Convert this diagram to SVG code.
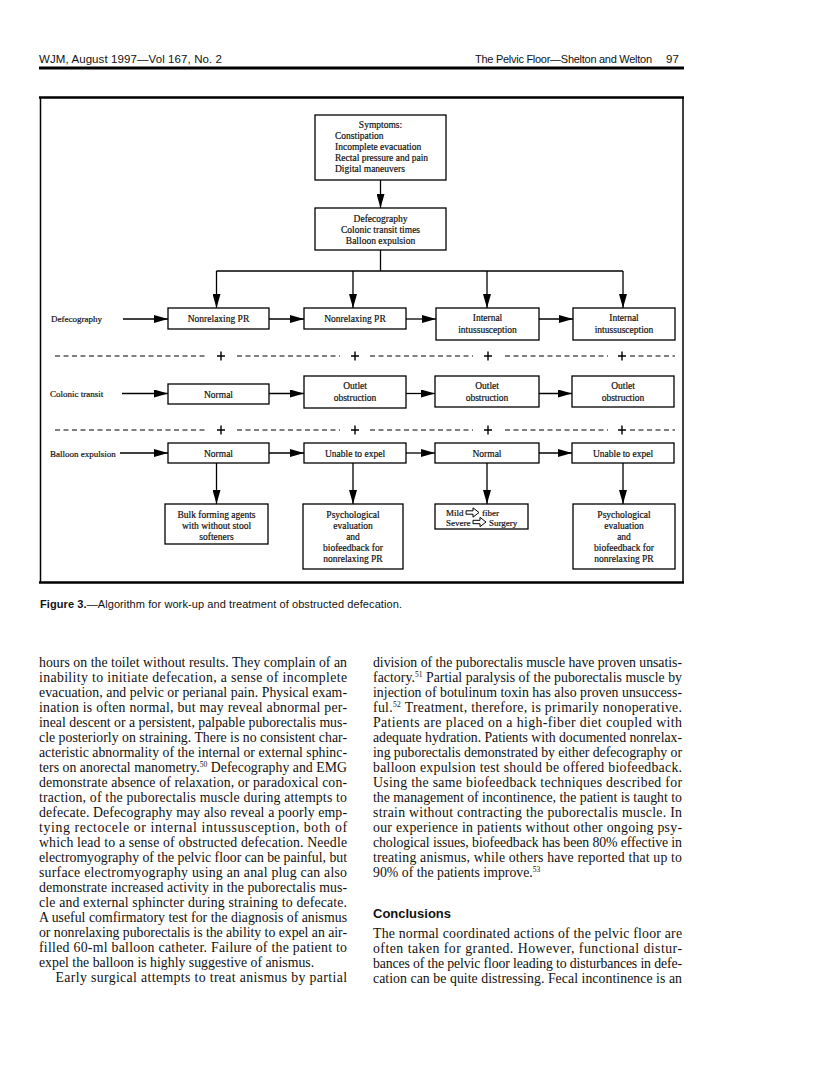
<svg xmlns="http://www.w3.org/2000/svg" width="816" height="1088" viewBox="0 0 816 1088">
<defs>
<marker id="ah" markerUnits="userSpaceOnUse" markerWidth="14" markerHeight="8" refX="14" refY="4" orient="auto"><path d="M0,0 L14,4 L0,8 z" fill="#000"/></marker>
<style>
.box{fill:#fff;stroke:#000;stroke-width:1.3}
.t{font-family:"Liberation Serif","Times New Roman",serif;font-size:9.5px;fill:#111;stroke:#111;stroke-width:0.2}
.lab{font-size:9px}
.c{text-anchor:middle}
.con{stroke:#000;stroke-width:1.3;fill:none}
.arr{marker-end:url(#ah)}
.dash{stroke:#000;stroke-width:1;stroke-dasharray:5 3.5;fill:none}
.plus{stroke:#000;stroke-width:1.4;fill:none}
.body{font-family:"Liberation Serif","Times New Roman",serif;font-size:13.8px;fill:#111}
.sans{font-family:"Liberation Sans",Arial,sans-serif;fill:#111}
.sup{font-size:7.5px}
.hollow{fill:#fff;stroke:#000;stroke-width:1}
</style>
</defs>
<rect width="816" height="1088" fill="#fff"/>

<g id="header">
<text class="sans" x="39" y="63" font-size="11.5" textLength="183">WJM, August 1997—Vol 167, No. 2</text>
<text class="sans" x="475" y="63" font-size="11" textLength="177">The Pelvic Floor—Shelton and Welton</text>
<text class="sans" x="666" y="63" font-size="11.5">97</text>
<line x1="39" y1="68" x2="684" y2="68" stroke="#000" stroke-width="3"/>
</g>

<g id="frame" fill="none" stroke="#000">
<line x1="39" y1="97.5" x2="684" y2="97.5" stroke-width="2.5"/>
<line x1="39" y1="582.5" x2="684" y2="582.5" stroke-width="2.5"/>
<line x1="40.5" y1="97" x2="40.5" y2="583" stroke-width="1.5"/>
<line x1="683" y1="97" x2="683" y2="583" stroke-width="1.5"/>
</g>

<g id="labels">
<text class="t lab" x="51" y="322">Defecography</text>
<text class="t lab" x="50" y="397">Colonic transit</text>
<text class="t lab" x="50" y="456.5">Balloon expulsion</text>
</g>

<g id="connectors">
<line class="con arr" x1="380.5" y1="180" x2="380.5" y2="208"/>
<line class="con" x1="380.5" y1="250" x2="380.5" y2="271"/>
<line class="con" x1="216.5" y1="271" x2="623" y2="271"/>
<line class="con arr" x1="216.5" y1="271" x2="216.5" y2="308"/>
<line class="con arr" x1="353" y1="271" x2="353" y2="308"/>
<line class="con arr" x1="487" y1="271" x2="487" y2="308"/>
<line class="con arr" x1="623" y1="271" x2="623" y2="308"/>

<line class="con arr" x1="123" y1="319" x2="168" y2="319"/>
<line class="con arr" x1="269" y1="319" x2="304" y2="319"/>
<line class="con arr" x1="406" y1="319" x2="436" y2="319"/>
<line class="con arr" x1="539" y1="319" x2="573" y2="319"/>

<line class="con arr" x1="122" y1="393.5" x2="168" y2="393.5"/>
<line class="con arr" x1="269" y1="393.5" x2="304" y2="393.5"/>
<line class="con arr" x1="406" y1="393.5" x2="435" y2="393.5"/>
<line class="con arr" x1="539" y1="393.5" x2="572" y2="393.5"/>

<line class="con arr" x1="120" y1="453" x2="168" y2="453"/>
<line class="con arr" x1="269" y1="453" x2="304" y2="453"/>
<line class="con arr" x1="406" y1="453" x2="435" y2="453"/>
<line class="con arr" x1="539" y1="453" x2="572" y2="453"/>

<line class="con arr" x1="216.5" y1="463" x2="216.5" y2="504"/>
<line class="con arr" x1="353" y1="463" x2="353" y2="504"/>
<line class="con arr" x1="487" y1="463" x2="487" y2="504"/>
<line class="con arr" x1="623" y1="463" x2="623" y2="504"/>
</g>

<g id="separators">
<path class="dash" d="M55,356 H207 M237,356 H340 M370,356 H473 M505,356 H608 M630,356 H675"/>
<path class="plus" d="M217,356 h8 M221,351.5 v9 M351,356 h8 M355,351.5 v9 M484,356 h8 M488,351.5 v9 M618,356 h8 M622,351.5 v9"/>
<path class="dash" d="M55,430 H207 M237,430 H340 M370,430 H473 M505,430 H608 M630,430 H675"/>
<path class="plus" d="M217,430 h8 M221,425.5 v9 M351,430 h8 M355,425.5 v9 M484,430 h8 M488,425.5 v9 M618,430 h8 M622,425.5 v9"/>
</g>

<g id="symptoms">
<rect class="box" x="315" y="115" width="131" height="65"/>
<text class="t c" x="380.5" y="128">Symptoms:</text>
<text class="t" x="335" y="139">Constipation</text>
<text class="t" x="335" y="150">Incomplete evacuation</text>
<text class="t" x="335" y="161">Rectal pressure and pain</text>
<text class="t" x="335" y="172">Digital maneuvers</text>
</g>

<g id="tests">
<rect class="box" x="315" y="208" width="131" height="42"/>
<text class="t c" x="380.5" y="222">Defecography</text>
<text class="t c" x="380.5" y="233">Colonic transit times</text>
<text class="t c" x="380.5" y="244">Balloon expulsion</text>
</g>

<g id="defeco1"><rect class="box" x="168" y="308" width="101" height="21"/><text class="t c" x="218.5" y="322">Nonrelaxing PR</text></g>
<g id="defeco2"><rect class="box" x="304" y="308" width="102" height="21"/><text class="t c" x="355" y="322">Nonrelaxing PR</text></g>
<g id="defeco3"><rect class="box" x="436" y="308" width="103" height="32"/><text class="t c" x="487.5" y="320.5">Internal</text><text class="t c" x="487.5" y="333">intussusception</text></g>
<g id="defeco4"><rect class="box" x="573" y="308" width="102" height="32"/><text class="t c" x="624" y="320.5">Internal</text><text class="t c" x="624" y="333">intussusception</text></g>

<g id="colonic1"><rect class="box" x="168" y="384" width="101" height="20"/><text class="t c" x="218.5" y="397.5">Normal</text></g>
<g id="colonic2"><rect class="box" x="304" y="376" width="102" height="32"/><text class="t c" x="355" y="389">Outlet</text><text class="t c" x="355" y="401">obstruction</text></g>
<g id="colonic3"><rect class="box" x="435" y="376" width="104" height="31"/><text class="t c" x="487" y="388.5">Outlet</text><text class="t c" x="487" y="400.5">obstruction</text></g>
<g id="colonic4"><rect class="box" x="572" y="376" width="102" height="31"/><text class="t c" x="623" y="388.5">Outlet</text><text class="t c" x="623" y="400.5">obstruction</text></g>

<g id="balloon1"><rect class="box" x="168" y="443" width="101" height="20"/><text class="t c" x="218.5" y="456.5">Normal</text></g>
<g id="balloon2"><rect class="box" x="304" y="443" width="102" height="20"/><text class="t c" x="355" y="456.5">Unable to expel</text></g>
<g id="balloon3"><rect class="box" x="435" y="443" width="104" height="20"/><text class="t c" x="487" y="456.5">Normal</text></g>
<g id="balloon4"><rect class="box" x="572" y="443" width="102" height="20"/><text class="t c" x="623" y="456.5">Unable to expel</text></g>

<g id="treat1"><rect class="box" x="165" y="504" width="103" height="40"/>
<text class="t c" x="216.5" y="518">Bulk forming agents</text>
<text class="t c" x="216.5" y="529">with without stool</text>
<text class="t c" x="216.5" y="540">softeners</text></g>
<g id="treat2"><rect class="box" x="303" y="504" width="100" height="65"/>
<text class="t c" x="353" y="518">Psychological</text>
<text class="t c" x="353" y="529">evaluation</text>
<text class="t c" x="353" y="540">and</text>
<text class="t c" x="353" y="551">biofeedback for</text>
<text class="t c" x="353" y="562">nonrelaxing PR</text></g>
<g id="treat3"><rect class="box" x="435" y="504" width="93" height="25"/>
<text class="t lab" x="446" y="516">Mild</text>
<path class="hollow" d="M466,510.8 h7 v-3 l6,4.7 l-6,4.7 v-3 h-7 z"/>
<text class="t lab" x="482" y="516">fiber</text>
<text class="t lab" x="446" y="525.5">Severe</text>
<path class="hollow" d="M473,520.3 h7 v-3 l6,4.7 l-6,4.7 v-3 h-7 z"/>
<text class="t lab" x="489" y="525.5">Surgery</text></g>
<g id="treat4"><rect class="box" x="573" y="504" width="102" height="65"/>
<text class="t c" x="624" y="518">Psychological</text>
<text class="t c" x="624" y="529">evaluation</text>
<text class="t c" x="624" y="540">and</text>
<text class="t c" x="624" y="551">biofeedback for</text>
<text class="t c" x="624" y="562">nonrelaxing PR</text></g>

<g id="caption">
<text class="sans" x="40" y="608" font-size="11" textLength="362"><tspan font-weight="bold">Figure 3.</tspan>—Algorithm for work-up and treatment of obstructed defecation.</text>
</g>

<g id="left-column" class="body">
<text x="39" y="667" textLength="308">hours on the toilet without results. They complain of an</text>
<text x="39" y="682" textLength="308">inability to initiate defecation, a sense of incomplete</text>
<text x="39" y="697" textLength="308">evacuation, and pelvic or perianal pain. Physical exam-</text>
<text x="39" y="712" textLength="308">ination is often normal, but may reveal abnormal per-</text>
<text x="39" y="727" textLength="308">ineal descent or a persistent, palpable puborectalis mus-</text>
<text x="39" y="742" textLength="308">cle posteriorly on straining. There is no consistent char-</text>
<text x="39" y="757" textLength="308">acteristic abnormality of the internal or external sphinc-</text>
<text x="39" y="772" textLength="308">ters on anorectal manometry.<tspan class="sup" dy="-5">50</tspan><tspan dy="5"> Defecography and EMG</tspan></text>
<text x="39" y="787" textLength="308">demonstrate absence of relaxation, or paradoxical con-</text>
<text x="39" y="802" textLength="308">traction, of the puborectalis muscle during attempts to</text>
<text x="39" y="817" textLength="308">defecate. Defecography may also reveal a poorly emp-</text>
<text x="39" y="832" textLength="308">tying rectocele or internal intussusception, both of</text>
<text x="39" y="847" textLength="308">which lead to a sense of obstructed defecation. Needle</text>
<text x="39" y="862" textLength="308">electromyography of the pelvic floor can be painful, but</text>
<text x="39" y="877" textLength="308">surface electromyography using an anal plug can also</text>
<text x="39" y="892" textLength="308">demonstrate increased activity in the puborectalis mus-</text>
<text x="39" y="907" textLength="308">cle and external sphincter during straining to defecate.</text>
<text x="39" y="922" textLength="308">A useful comfirmatory test for the diagnosis of anismus</text>
<text x="39" y="937" textLength="308">or nonrelaxing puborectalis is the ability to expel an air-</text>
<text x="39" y="952" textLength="308">filled 60-ml balloon catheter. Failure of the patient to</text>
<text x="39" y="967">expel the balloon is highly suggestive of anismus.</text>
<text x="55.5" y="982" textLength="291.5">Early surgical attempts to treat anismus by partial</text>
</g>

<g id="right-column" class="body">
<text x="373" y="667" textLength="309">division of the puborectalis muscle have proven unsatis-</text>
<text x="373" y="682" textLength="309">factory.<tspan class="sup" dy="-5">51</tspan><tspan dy="5"> Partial paralysis of the puborectalis muscle by</tspan></text>
<text x="373" y="697" textLength="309">injection of botulinum toxin has also proven unsuccess-</text>
<text x="373" y="712" textLength="309">ful.<tspan class="sup" dy="-5">52</tspan><tspan dy="5"> Treatment, therefore, is primarily nonoperative.</tspan></text>
<text x="373" y="727" textLength="309">Patients are placed on a high-fiber diet coupled with</text>
<text x="373" y="742" textLength="309">adequate hydration. Patients with documented nonrelax-</text>
<text x="373" y="757" textLength="309">ing puborectalis demonstrated by either defecography or</text>
<text x="373" y="772" textLength="309">balloon expulsion test should be offered biofeedback.</text>
<text x="373" y="787" textLength="309">Using the same biofeedback techniques described for</text>
<text x="373" y="802" textLength="309">the management of incontinence, the patient is taught to</text>
<text x="373" y="817" textLength="309">strain without contracting the puborectalis muscle. In</text>
<text x="373" y="832" textLength="309">our experience in patients without other ongoing psy-</text>
<text x="373" y="847" textLength="309">chological issues, biofeedback has been 80% effective in</text>
<text x="373" y="862" textLength="309">treating anismus, while others have reported that up to</text>
<text x="373" y="877">90% of the patients improve.<tspan class="sup" dy="-5">53</tspan></text>
<text class="sans" x="373" y="918" font-size="13" font-weight="bold">Conclusions</text>
<text x="373" y="938" textLength="309">The normal coordinated actions of the pelvic floor are</text>
<text x="373" y="953" textLength="309">often taken for granted. However, functional distur-</text>
<text x="373" y="968" textLength="309">bances of the pelvic floor leading to disturbances in defe-</text>
<text x="373" y="983" textLength="309">cation can be quite distressing. Fecal incontinence is an</text>
</g>
</svg>
